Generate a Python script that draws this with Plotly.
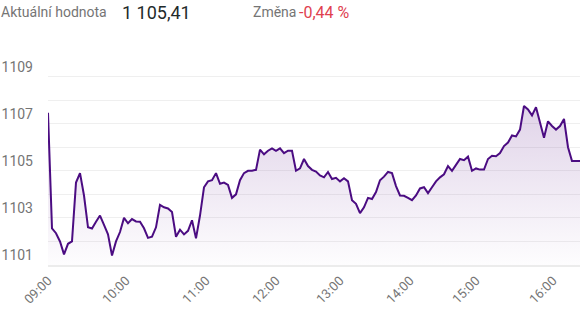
import plotly.graph_objects as go

# price values sampled at equal steps through the trading day
values = [
    1107.46, 1102.55, 1102.35, 1102.0, 1101.45, 1101.9, 1102.0, 1104.5, 1104.9, 1103.95,
    1102.6, 1102.55, 1102.84, 1103.1, 1102.7, 1102.3, 1101.4, 1102.0, 1102.4, 1103.0,
    1102.77, 1102.95, 1102.85, 1102.84, 1102.56, 1102.15, 1102.2, 1102.6, 1103.55, 1103.45,
    1103.4, 1103.25, 1102.2, 1102.5, 1102.3, 1102.45, 1102.9, 1102.13, 1103.1, 1104.3,
    1104.55, 1104.6, 1104.9, 1104.45, 1104.5, 1104.4, 1103.85, 1104.0, 1104.6, 1104.9,
    1105.0, 1105.0, 1105.04, 1105.9, 1105.7, 1105.85, 1105.95, 1105.85, 1105.95, 1105.75,
    1105.85, 1105.85, 1105.0, 1105.1, 1105.5, 1105.2, 1105.04, 1104.97, 1104.8, 1104.72,
    1104.95, 1104.65, 1104.7, 1104.55, 1104.68, 1104.55, 1103.75, 1103.6, 1103.2, 1103.45,
    1103.85, 1103.8, 1104.1, 1104.6, 1104.75, 1104.95, 1104.9, 1104.35, 1103.95, 1103.94,
    1103.85, 1103.75, 1103.95, 1104.25, 1104.3, 1104.05, 1104.3, 1104.55, 1104.72, 1104.85,
    1105.2, 1105.0, 1105.25, 1105.5, 1105.45, 1105.6, 1105.0, 1105.1, 1105.05, 1105.05,
    1105.5, 1105.64, 1105.62, 1105.75, 1106.05, 1106.2, 1106.5, 1106.46, 1106.75, 1107.75,
    1107.6, 1107.35, 1107.7, 1107.05, 1106.4, 1107.1, 1106.9, 1106.75, 1106.9, 1107.2,
    1106.0, 1105.41, 1105.41, 1105.41,
]
steps = list(range(len(values)))

hour_positions = [0, 19.5, 39.5, 57, 73, 90.5, 107, 126.25]
hour_labels = ["09:00", "10:00", "11:00", "12:00", "13:00", "14:00", "15:00", "16:00"]

y_ticks = [1101, 1102, 1103, 1104, 1105, 1106, 1107, 1108, 1109, 1110]
y_labels = ["1101", "", "1103", "", "1105", "", "1107", "", "1109", ""]

current_label = "Aktuální hodnota"
current_value = "1 105,41"
change_label = "Změna"
change_value = "-0,44 %"

fig = go.Figure()
fig.add_trace(go.Scatter(
    x=steps, y=values, mode="lines",
    line=dict(color="#4b0c82", width=2),
    fill="tozeroy",
    fillgradient=dict(
        type="vertical", start=1101, stop=1108,
        colorscale=[[0, "rgba(110,50,150,0.01)"], [1, "rgba(110,50,150,0.22)"]],
    ),
    hoverinfo="skip",
))

L, R, T, B = 48, 5, 53, 45
W, H = 585, 310
pw, ph = W - L - R, H - T - B

def px_x(px):
    return (px - L) / pw

def px_y(py):
    return (H - B - py) / ph

fig.update_layout(
    width=W, height=H,
    margin=dict(l=L, r=R, t=T, b=B, autoexpand=False),
    paper_bgcolor="white", plot_bgcolor="white",
    showlegend=False,
    font=dict(family="Roboto", size=14, color="#757575"),
    xaxis=dict(
        range=[0, len(values) - 1], automargin=False,
        tickmode="array", tickvals=hour_positions, ticktext=hour_labels,
        tickangle=-45, showgrid=False, zeroline=False,
        showline=True, linecolor="#ececec", linewidth=2,
        ticks="outside", ticklen=1, tickcolor="rgba(0,0,0,0)",
        tickfont=dict(family="Roboto", size=13, color="#757575"),
    ),
    yaxis=dict(
        range=[1101, 1110], automargin=False,
        tickmode="array", tickvals=y_ticks, ticktext=y_labels,
        showgrid=True, gridcolor="#efefef", gridwidth=1, zeroline=False,
        ticklabelposition="outside top",
        ticks="", ticklabelstandoff=14,
        tickfont=dict(family="Roboto", size=14, color="#757575"),
    ),
    annotations=[
        dict(text=current_label, xref="paper", yref="paper", x=px_x(-1), y=px_y(12),
             xanchor="left", yanchor="middle", showarrow=False,
             font=dict(family="Roboto", size=14, color="#757575")),
        dict(text=current_value, xref="paper", yref="paper", x=px_x(120), y=px_y(12),
             xanchor="left", yanchor="middle", showarrow=False,
             font=dict(family="Roboto", size=18, color="#1f2a2a")),
        dict(text=change_label, xref="paper", yref="paper", x=px_x(251), y=px_y(12),
             xanchor="left", yanchor="middle", showarrow=False,
             font=dict(family="Roboto", size=14, color="#757575")),
        dict(text=change_value, xref="paper", yref="paper", x=px_x(297), y=px_y(12),
             xanchor="left", yanchor="middle", showarrow=False,
             font=dict(family="Roboto", size=16, color="#e0414f")),
    ],
)

fig.write_html("out.html")
